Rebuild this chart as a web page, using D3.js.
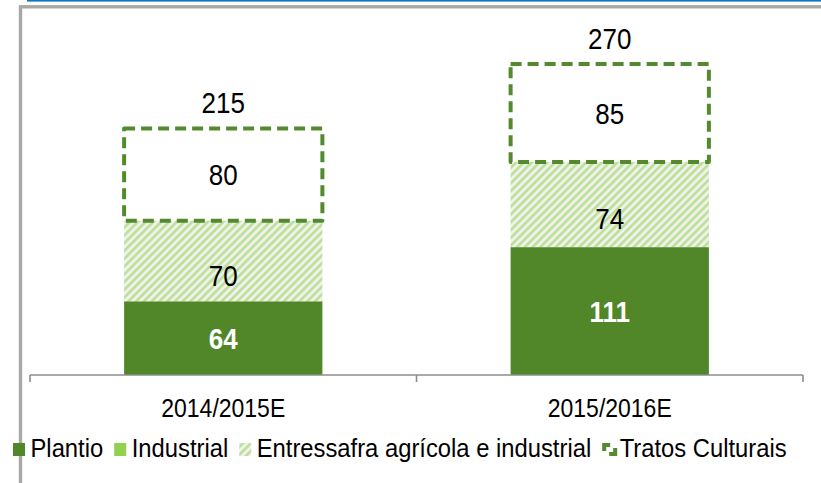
<!DOCTYPE html>
<html><head><meta charset="utf-8">
<script src="https://cdn.jsdelivr.net/npm/d3@7/dist/d3.min.js"></script>
<style>body{margin:0;background:#fff;}svg{display:block;font-family:"Liberation Sans",Arial,sans-serif;}</style>
</head><body>
<svg id="c" width="821" height="483"></svg>
<script>
const categories = ["2014/2015E", "2015/2016E"];
const plantio = [64, 111];
const industrial = [0, 0];
const entressafra = [70, 74];
const tratos = [80, 85];
const totals = [215, 270];
const seriesNames = ["Plantio", "Industrial", "Entressafra agrícola e industrial", "Tratos Culturais"];

const svg = d3.select("#c");
const W = 821, H = 483;
const SY = 1.1; // vertical stretch of text seen in the reference
// frame
svg.append("rect").attr("x", 27).attr("y", 0).attr("width", W - 27).attr("height", 1.6).attr("fill", "#0a78c2");
svg.append("rect").attr("x", 20.5).attr("y", 6.8).attr("width", W + 20).attr("height", H + 20)
  .attr("fill", "none").attr("stroke", "#a8a8a8").attr("stroke-width", 3.4);

const defs = svg.append("defs");
const pat = defs.append("pattern").attr("id", "hatch").attr("patternUnits", "userSpaceOnUse")
  .attr("width", 5.5).attr("height", 5.5).attr("patternTransform", "rotate(45)");
pat.append("rect").attr("width", 5.5).attr("height", 5.5).attr("fill", "#eff2ec");
pat.append("rect").attr("x", 0).attr("width", 2.6).attr("height", 5.5).attr("fill", "#bde097");

const x = d3.scaleBand().domain(categories).range([30, 803]).paddingInner(0).paddingOuter(0);
const bw = x.bandwidth() * 0.513;
const y = d3.scaleLinear().domain([0, 300]).range([375, 29.4]);

const rows = categories.map((c, i) => ({cat: c, Plantio: plantio[i], Industrial: industrial[i], Entressafra: entressafra[i], Tratos: tratos[i], total: totals[i]}));
const stack = d3.stack().keys(["Plantio", "Industrial", "Entressafra", "Tratos"])(rows);
const cx = d => x(d.data.cat) + x.bandwidth() / 2;

// Plantio
svg.append("g").selectAll("rect").data(stack[0]).join("rect")
  .attr("x", d => cx(d) - bw / 2).attr("width", bw)
  .attr("y", d => y(d[1])).attr("height", d => y(d[0]) - y(d[1])).attr("fill", "#518729");
// Industrial
svg.append("g").selectAll("rect").data(stack[1]).join("rect")
  .attr("x", d => cx(d) - bw / 2).attr("width", bw)
  .attr("y", d => y(d[1])).attr("height", d => y(d[0]) - y(d[1])).attr("fill", "#92d050");
// Entressafra
svg.append("g").selectAll("rect").data(stack[2]).join("rect")
  .attr("x", d => cx(d) - bw / 2).attr("width", bw)
  .attr("y", d => y(d[1])).attr("height", d => y(d[0]) - y(d[1])).attr("fill", "url(#hatch)");
// Tratos
svg.append("g").selectAll("rect").data(stack[3]).join("rect")
  .attr("x", d => cx(d) - bw / 2).attr("width", bw)
  .attr("y", d => y(d[1])).attr("height", d => y(d[0]) - y(d[1]))
  .attr("fill", "none").attr("stroke", "#538a2d").attr("stroke-width", 4)
  .attr("stroke-dasharray", "11,6").attr("stroke-linejoin", "round");

// helper for stretched text
function stext(parent, tx, ty, str, size, opts = {}) {
  const g = parent.append("g").attr("transform", `translate(${tx},${ty}) scale(1,${SY})`);
  const t = g.append("text").attr("x", 0).attr("y", 0).attr("font-size", size)
    .attr("text-anchor", opts.anchor || "start").attr("fill", opts.fill || "#000")
    .attr("font-weight", opts.weight || "normal").text(str);
  if (opts.central) t.attr("dominant-baseline", "central");
  return t;
}

// axis
const axis = svg.append("g").attr("transform", "translate(0,375)");
axis.append("line").attr("x1", 30).attr("x2", 803).attr("stroke", "#8c8c8c").attr("stroke-width", 1.6);
const tickXs = [x(categories[0]), ...categories.map(c => x(c) + x.bandwidth())];
axis.selectAll("line.t").data(tickXs).join("line").attr("class", "t")
  .attr("x1", d => d).attr("x2", d => d).attr("y1", 0).attr("y2", 7)
  .attr("stroke", "#8c8c8c").attr("stroke-width", 1.6);
const catG = svg.append("g");
categories.forEach(c => stext(catG, x(c) + x.bandwidth() / 2, 417, c, 23, {anchor: "middle"}));

// labels
const labG = svg.append("g");
stack[0].forEach(d => stext(labG, cx(d), (y(d[0]) + y(d[1])) / 2 + 1, d.data.Plantio, 26, {anchor: "middle", central: true, fill: "#fff", weight: "bold"}));
stack[2].forEach(d => stext(labG, cx(d), (y(d[0]) + y(d[1])) / 2 + 15, d.data.Entressafra, 26, {anchor: "middle", central: true}));
stack[3].forEach(d => stext(labG, cx(d), (y(d[0]) + y(d[1])) / 2 + 1, d.data.Tratos, 26, {anchor: "middle", central: true}));
stack[3].forEach(d => stext(labG, cx(d), y(d[1]) - 25, d.data.total, 26, {anchor: "middle", central: true}));

// legend
const leg = svg.append("g");
let lx = 13;
const fills = ["#518729", "#92d050", "url(#hatch)", "none"];
seriesNames.forEach((n, i) => {
  const sw = leg.append("rect").attr("x", lx).attr("y", 443).attr("width", 12).attr("height", 13).attr("fill", fills[i]);
  if (i === 3) sw.attr("x", lx + 2).attr("y", 445).attr("width", 11).attr("height", 9)
    .attr("stroke", "#538a2d").attr("stroke-width", 4).attr("stroke-dasharray", "6,8,12,8,6,100");
  const t = stext(leg, lx + 17.5, 457, n, 23.8);
  lx = lx + 17.5 + t.node().getComputedTextLength() + 11;
});
</script>
</body></html>
